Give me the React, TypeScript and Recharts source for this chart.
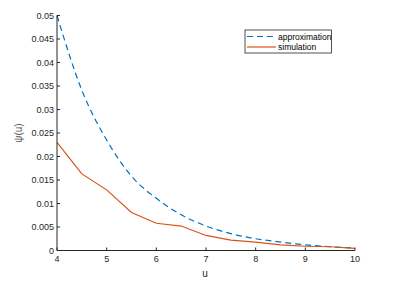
import React from "react";
import { LineChart, Line, XAxis, YAxis, CartesianGrid } from "recharts";

const uValues = [4, 4.5, 5, 5.5, 6, 6.5, 7, 7.5, 8, 8.5, 9, 9.5, 10];
const approximation = [0.05, 0.0341, 0.0235, 0.0158, 0.0111, 0.0076, 0.0052, 0.0036, 0.0025, 0.0018, 0.0012, 0.0008, 0.0005];
const simulation = [0.023, 0.0163, 0.0129, 0.0081, 0.0058, 0.0052, 0.0032, 0.0022, 0.0018, 0.0012, 0.0009, 0.0008, 0.00045];
const xTicks = [4, 5, 6, 7, 8, 9, 10];
const yTicks = [0, 0.005, 0.01, 0.015, 0.02, 0.025, 0.03, 0.035, 0.04, 0.045, 0.05];

const data = uValues.map((u, i) => ({ u, approximation: approximation[i], simulation: simulation[i] }));

const AX = "#262626";
const FONT = "'Liberation Sans', Arial, sans-serif";
const TL = 3;

const BottomTick = (p: any) => (
  <g>
    <line x1={p.x} y1={p.y} x2={p.x} y2={p.y - TL} stroke={AX} strokeWidth={1} />
    <text x={p.x} y={p.y + 11} textAnchor="middle" fontSize={9} fontFamily={FONT} fill={AX}>{p.payload.value}</text>
  </g>
);
const TopTick = (p: any) => (
  <line x1={p.x} y1={p.y} x2={p.x} y2={p.y + TL} stroke={AX} strokeWidth={1} />
);
const LeftTick = (p: any) => (
  <g>
    <line x1={p.x} y1={p.y} x2={p.x + TL} y2={p.y} stroke={AX} strokeWidth={1} />
    <text x={p.x - 3} y={p.y + 3} textAnchor="end" fontSize={9} fontFamily={FONT} fill={AX}>{p.payload.value}</text>
  </g>
);
const RightTick = (p: any) => (
  <line x1={p.x} y1={p.y} x2={p.x - TL} y2={p.y} stroke={AX} strokeWidth={1} />
);

export default function App() {
  return (
    <div style={{ position: "absolute", left: 0, top: 0, width: 403, height: 281, background: "#fff" }}>
      <LineChart width={403} height={281} data={data} margin={{ top: 15.5, right: 48, bottom: 0, left: 0 }}>
        <CartesianGrid stroke="none" />
        <XAxis xAxisId="b" dataKey="u" type="number" domain={[4, 10]} ticks={xTicks} height={30.5}
          axisLine={{ stroke: AX }} tickLine={false} tickSize={0} tickMargin={0} tick={<BottomTick />} interval={0} />
        <XAxis xAxisId="t" orientation="top" dataKey="u" type="number" domain={[4, 10]} ticks={xTicks} height={0}
          axisLine={{ stroke: AX }} tickLine={false} tickSize={0} tickMargin={0} tick={<TopTick />} interval={0} />
        <YAxis yAxisId="l" type="number" domain={[0, 0.05]} ticks={yTicks} width={57}
          axisLine={{ stroke: AX }} tickLine={false} tickSize={0} tickMargin={0} tick={<LeftTick />} interval={0} />
        <YAxis yAxisId="r" orientation="right" type="number" domain={[0, 0.05]} ticks={yTicks} width={0}
          axisLine={{ stroke: AX }} tickLine={false} tickSize={0} tickMargin={0} tick={<RightTick />} interval={0} />
        <Line xAxisId="b" yAxisId="l" type="monotone" dataKey="approximation" stroke="#0072BD" strokeWidth={1.2}
          strokeDasharray="6 4" dot={false} isAnimationActive={false} />
        <Line xAxisId="b" yAxisId="l" type="linear" dataKey="simulation" stroke="#D95319" strokeWidth={1.2}
          dot={false} isAnimationActive={false} />
        <text x={205} y={277} textAnchor="middle" fontSize={10} fontFamily={FONT} fill={AX}>u</text>
        <text x={0} y={0} transform="translate(22,133) rotate(-90)" textAnchor="middle" fontSize={10} fontFamily={FONT} fill="#555">ψ(u)</text>
        <g>
          <rect x={245} y={30} width={86.5} height={23} fill="#fff" stroke={AX} strokeWidth={0.8} />
          <line x1={247} y1={36.5} x2={276} y2={36.5} stroke="#0072BD" strokeWidth={1.2} strokeDasharray="6 4" />
          <text x={278} y={39.5} fontSize={8.5} fontFamily={FONT} fill="#000">approximation</text>
          <line x1={247} y1={47} x2={276} y2={47} stroke="#D95319" strokeWidth={1.2} />
          <text x={278} y={50} fontSize={8.5} fontFamily={FONT} fill="#000">simulation</text>
        </g>
      </LineChart>
    </div>
  );
}
